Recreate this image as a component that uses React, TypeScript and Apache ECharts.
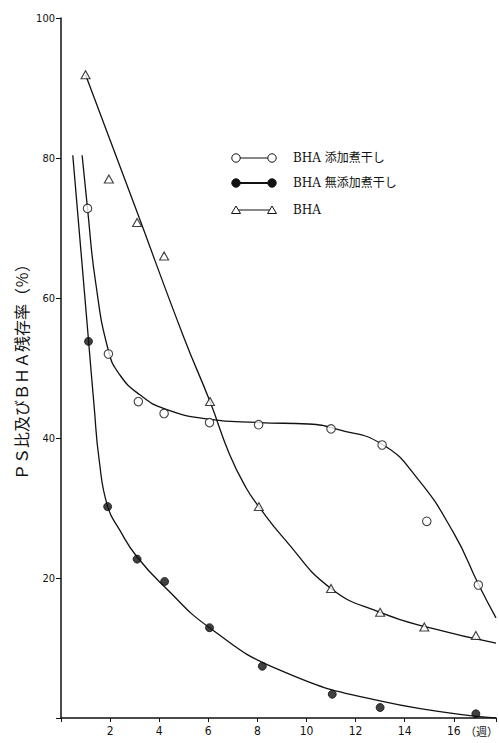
import React, { useEffect, useRef } from "react";
import * as echarts from "echarts";

// Tick labels
const yTicks = [20, 40, 60, 80, 100];
const xTicks = [2, 4, 6, 8, 10, 12, 14, 16];

// Series names
const seriesNames = ["BHA 添加煮干し", "BHA 無添加煮干し", "BHA"];

// Measured points (week, %)
const addedPoints: [number, number][] = [
  [1.08, 72.8], [1.93, 52], [3.15, 45.2], [4.2, 43.5], [6.05, 42.2],
  [8.05, 41.9], [11.0, 41.3], [13.08, 39], [14.9, 28.1], [17.0, 19],
];
const noAddPoints: [number, number][] = [
  [1.12, 53.8], [1.9, 30.2], [3.1, 22.7], [4.22, 19.5], [6.05, 12.9],
  [8.2, 7.4], [11.05, 3.4], [13.0, 1.5], [16.9, 0.6],
];
const bhaPoints: [number, number][] = [
  [1.0, 91.9], [1.95, 77], [3.1, 70.8], [4.2, 66], [6.07, 45.2],
  [8.06, 30.2], [11.0, 18.5], [13.0, 15.1], [14.8, 13.0], [16.9, 11.8],
];

// Fitted curves
const addedCurve: [number, number][] = [
  [0.86, 80.4], [1.08, 72.8], [1.4, 62.5], [1.93, 52.5], [2.4, 49],
  [3.2, 46.2], [4.2, 44.2], [6.0, 42.7], [8.06, 42.2], [10.08, 42.0],
  [11.3, 41.2], [13.08, 39.1], [14.5, 34.3], [16.0, 26.4], [17.02, 19],
  [17.72, 14.3],
];
const noAddCurve: [number, number][] = [
  [0.48, 80.4], [0.8, 67.2], [1.12, 54], [1.35, 44.5], [1.55, 37], [1.9, 30.2],
  [2.4, 26.8], [3.1, 23], [4.29, 18.5], [6.05, 12.9], [8.87, 6.9],
  [13.04, 2.4], [17.72, 0],
];
const bhaCurve: [number, number][] = [
  [1.0, 91.9], [3.0, 73.2], [5.0, 54.4], [6.07, 45.2], [6.85, 37.8],
  [7.52, 33.0], [8.06, 30.2], [9.07, 25.7], [11.0, 18.5], [13.0, 15.1],
  [15.0, 12.9], [17.72, 10.7],
];

const X_MAX = 17.72;

export default function App() {
  const ref = useRef<HTMLDivElement>(null);
  useEffect(() => {
    if (!ref.current) return;
    const chart = echarts.init(ref.current, null, { renderer: "svg" });
    const ink = "#111";
    const curveStyle = { color: ink, width: 1.3 };
    const legendRows = [158, 183, 210];
    const lx1 = 236, lx2 = 272, tx = 293;
    const legendGraphics: any[] = [];
    legendRows.forEach((y, i) => {
      legendGraphics.push({
        type: "line",
        shape: { x1: lx1, y1: y, x2: lx2, y2: y },
        style: { stroke: ink, lineWidth: i === 1 ? 2 : 1 },
      });
      [lx1, lx2].forEach((cx) => {
        if (i === 2) {
          legendGraphics.push({
            type: "polygon",
            shape: { points: [[cx, y - 4], [cx - 4.5, y + 3.5], [cx + 4.5, y + 3.5]] },
            style: { fill: "#fff", stroke: ink, lineWidth: 1 },
          });
        } else {
          legendGraphics.push({
            type: "circle",
            shape: { cx, cy: y, r: 4.2 },
            style: { fill: i === 1 ? ink : "#fff", stroke: ink, lineWidth: 1 },
          });
        }
      });
      legendGraphics.push({
        type: "text",
        x: tx,
        y,
        style: {
          text: seriesNames[i],
          font: '12px "DejaVu Serif", "Noto Sans CJK JP", serif',
          fill: ink,
          verticalAlign: "middle",
        },
      });
    });
    legendGraphics.push({
      type: "text",
      x: 465,
      y: 731,
      style: {
        text: "（週）",
        font: '11px "Noto Sans CJK JP", sans-serif',
        fill: ink,
        verticalAlign: "middle",
      },
    });

    const curve = (name: string, data: [number, number][]) => ({
      type: "line", name, data, smooth: 0.5, showSymbol: false, silent: true,
      lineStyle: curveStyle, z: 2,
    });

    chart.setOption({
      animation: false,
      backgroundColor: "#fff",
      grid: { left: 61, right: 0, top: 18, bottom: 25, containLabel: false },
      xAxis: {
        type: "value",
        min: 0,
        max: X_MAX,
        interval: 2,
        splitLine: { show: false },
        axisLine: { show: true, lineStyle: { color: ink, width: 1.5 } },
        axisTick: { show: true, inside: false, length: 4, lineStyle: { color: ink } },
        axisLabel: {
          color: ink,
          fontSize: 12,
          margin: 7,
          fontFamily: "DejaVu Sans Condensed, DejaVu Sans, sans-serif",
          formatter: (v: number) => (xTicks.includes(v) ? String(v) : ""),
        },
      },
      yAxis: {
        type: "value",
        min: 0,
        max: 100,
        interval: 20,
        name: "ＰＳ比及びＢＨＡ残存率（％）",
        nameLocation: "middle",
        nameRotate: 90,
        nameGap: 32,
        nameMoveOverlap: false,
        nameTextStyle: {
          color: ink,
          fontSize: 16,
          fontFamily: '"Noto Sans CJK JP", sans-serif',
        },
        splitLine: { show: false },
        axisLine: { show: true, lineStyle: { color: ink, width: 1.5 } },
        axisTick: { show: true, inside: false, length: 5, lineStyle: { color: ink } },
        axisLabel: {
          color: ink,
          fontSize: 11,
          margin: 6,
          fontFamily: "DejaVu Sans Condensed, DejaVu Sans, sans-serif",
          formatter: (v: number) => (yTicks.includes(v) ? String(v) : ""),
        },
      },
      graphic: legendGraphics,
      series: [
        curve(seriesNames[0] + " curve", addedCurve),
        curve(seriesNames[1] + " curve", noAddCurve),
        curve(seriesNames[2] + " curve", bhaCurve),
        {
          type: "scatter", name: seriesNames[0], data: addedPoints,
          symbol: "circle", symbolSize: 8.5,
          itemStyle: { color: "#fff", borderColor: ink, borderWidth: 1.1 }, z: 3,
        },
        {
          type: "scatter", name: seriesNames[1], data: noAddPoints,
          symbol: "circle", symbolSize: 8,
          itemStyle: { color: ink, borderColor: ink, borderWidth: 1 }, z: 3,
        },
        {
          type: "scatter", name: seriesNames[2], data: bhaPoints,
          symbol: "triangle", symbolSize: [9, 8],
          itemStyle: { color: "#fff", borderColor: ink, borderWidth: 1.1 }, z: 3,
        },
      ],
    });
    return () => chart.dispose();
  }, []);
  return (
    <div
      ref={ref}
      style={{ position: "fixed", left: 0, top: 0, width: 499, height: 743, background: "#fff" }}
    />
  );
}
